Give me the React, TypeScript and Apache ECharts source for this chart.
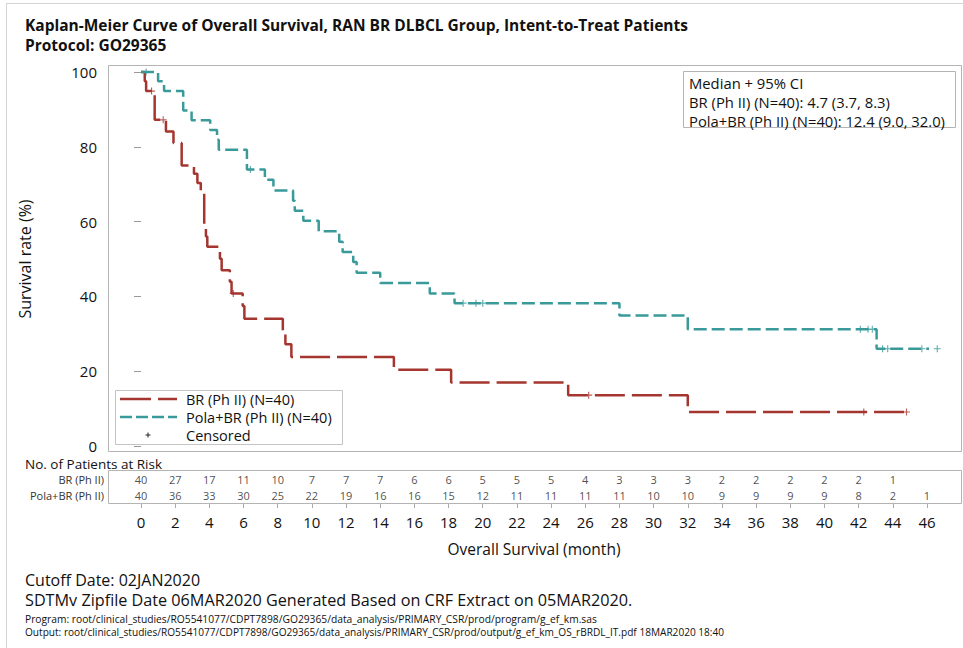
import React, { useEffect, useRef } from "react";
import * as echarts from "echarts";

const RED = "#a5362f";
const TEAL = "#3a9a9a";
const FONT = "'Open Sans', 'Noto Sans', sans-serif";

// Kaplan-Meier step curves (time in months, survival in %)
const brTimes = [0, 0.22, 0.3, 0.8, 1.46, 1.9, 2.38, 3.1, 3.3, 3.5, 3.7, 3.8, 3.88, 4.62, 4.72, 5.2, 5.3, 5.95, 6.05, 8.3, 8.45, 8.8, 14.8, 18.15, 25.0, 32.0, 44.8];
const brSurv = [100, 97.5, 94.9, 87.2, 84.1, 81.0, 75.0, 72.8, 70.3, 67.8, 58.6, 56.0, 53.3, 50.1, 47.0, 43.9, 40.8, 37.4, 34.0, 30.6, 27.2, 23.8, 20.4, 17.0, 13.6, 9.1, 9.1];
const brCensorTimes = [0.62, 1.3, 5.4, 26.2, 42.3, 44.8];

const polaTimes = [0, 1.0, 1.35, 2.47, 2.96, 4.05, 4.45, 4.55, 6.2, 7.25, 7.75, 8.9, 9.0, 9.5, 10.4, 11.6, 11.8, 12.42, 12.62, 14.0, 16.9, 18.35, 28.0, 32.0, 43.05, 46.6];
const polaSurv = [100, 97.5, 94.9, 89.7, 87.1, 84.5, 81.9, 79.2, 73.9, 71.2, 68.3, 65.6, 62.9, 60.2, 57.4, 54.6, 51.9, 49.2, 46.3, 43.6, 40.8, 38.2, 34.9, 31.2, 26.0, 26.0];
const polaCensorTimes = [0.3, 6.4, 18.85, 19.6, 20.0, 42.1, 42.55, 42.8, 43.4, 43.7, 45.7, 46.6];

// Number at risk table
const riskMonths = [0, 2, 4, 6, 8, 10, 12, 14, 16, 18, 20, 22, 24, 26, 28, 30, 32, 34, 36, 38, 40, 42, 44, 46];
const brAtRisk = [40, 27, 17, 11, 10, 7, 7, 7, 6, 6, 5, 5, 5, 4, 3, 3, 3, 2, 2, 2, 2, 2, 1, null];
const polaAtRisk = [40, 36, 33, 30, 25, 22, 19, 16, 16, 15, 12, 11, 11, 11, 11, 10, 10, 9, 9, 9, 9, 8, 2, 1];

const groupLabels = ["BR (Ph II)", "Pola+BR (Ph II)"];
const legendLabels = ["BR (Ph II) (N=40)", "Pola+BR (Ph II) (N=40)", "Censored"];
const medianLines = ["Median + 95% CI", "BR (Ph II) (N=40): 4.7 (3.7, 8.3)", "Pola+BR (Ph II) (N=40): 12.4 (9.0, 32.0)"];
const titleLines = ["Kaplan-Meier Curve of Overall Survival, RAN BR DLBCL Group, Intent-to-Treat Patients", "Protocol: GO29365"];
const footLines = [
  "Cutoff Date: 02JAN2020",
  "SDTMv Zipfile Date 06MAR2020 Generated Based on CRF Extract on 05MAR2020.",
  "Program: root/clinical_studies/RO5541077/CDPT7898/GO29365/data_analysis/PRIMARY_CSR/prod/program/g_ef_km.sas",
  "Output: root/clinical_studies/RO5541077/CDPT7898/GO29365/data_analysis/PRIMARY_CSR/prod/output/g_ef_km_OS_rBRDL_IT.pdf 18MAR2020 18:40",
];

const survAt = (times: number[], surv: number[], t: number) => {
  let s = surv[0];
  for (let i = 0; i < times.length; i++) if (times[i] <= t) s = surv[i];
  return s;
};

const PLUS = "path://M0.42,0 H0.58 V0.42 H1 V0.58 H0.58 V1 H0.42 V0.58 H0 V0.42 H0.42 Z";

const txt = (x: number, y: number, text: string, size: number, opts: any = {}) => ({
  type: "text",
  x,
  y,
  silent: true,
  style: {
    text,
    font: `${opts.weight || "normal"} ${size}px ${FONT}`,
    fill: opts.fill || "#111",
    textAlign: opts.align || "left",
    textVerticalAlign: "middle",
    verticalAlign: "middle",
  },
});

export default function App() {
  const ref = useRef<HTMLDivElement>(null);
  useEffect(() => {
    if (!ref.current) return;
    const chart = echarts.init(ref.current, undefined, { renderer: "svg" });
    const brLine = brTimes.map((t, i) => [t, brSurv[i]]);
    const polaLine = polaTimes.map((t, i) => [t, polaSurv[i]]);
    const brCens = brCensorTimes.map((t) => [t, survAt(brTimes, brSurv, t)]);
    const polaCens = polaCensorTimes.map((t) => [t, survAt(polaTimes, polaSurv, t)]);
    const riskData: any[] = [];
    riskMonths.forEach((m, i) => {
      if (brAtRisk[i] != null) riskData.push([m, groupLabels[0], brAtRisk[i]]);
      if (polaAtRisk[i] != null) riskData.push([m, groupLabels[1], polaAtRisk[i]]);
    });

    const option: any = {
      animation: false,
      backgroundColor: "#fff",
      textStyle: { fontFamily: FONT },
      grid: [
        { left: 141, top: 72, width: 786, height: 374 },
        { left: 141, top: 471, width: 786, height: 32 },
      ],
      xAxis: [
        { gridIndex: 0, type: "value", min: 0, max: 46, show: false },
        {
          gridIndex: 1,
          type: "value",
          min: 0,
          max: 46,
          interval: 2,
          axisLine: { show: false },
          axisTick: { show: true, length: 5, lineStyle: { color: "#aaa" } },
          axisLabel: { fontSize: 15, color: "#111", margin: 11, fontFamily: FONT },
          splitLine: { show: false },
          name: "Overall Survival (month)",
          nameLocation: "middle",
          nameGap: 38,
          nameTextStyle: { fontSize: 15.5, color: "#111", fontFamily: FONT },
        },
      ],
      yAxis: [
        {
          gridIndex: 0,
          type: "value",
          min: 0,
          max: 100,
          interval: 20,
          offset: 33,
          axisLine: { show: false },
          axisTick: { show: true, length: 7, lineStyle: { color: "#999" } },
          axisLabel: { fontSize: 15, color: "#111", margin: 11, fontFamily: FONT },
          splitLine: { show: false },
          name: "Survival rate (%)",
          nameLocation: "middle",
          nameGap: 75,
          nameTextStyle: { fontSize: 16, color: "#111", fontFamily: FONT },
        },
        {
          gridIndex: 1,
          type: "category",
          data: [groupLabels[1], groupLabels[0]],
          offset: 33,
          axisLine: { show: false },
          axisTick: { show: false },
          axisLabel: { fontSize: 11, color: "#333", margin: 4, fontFamily: FONT },
          splitLine: { show: false },
        },
      ],
      series: [
        {
          type: "line",
          step: "end",
          xAxisIndex: 0,
          yAxisIndex: 0,
          data: brLine,
          symbol: "none",
          clip: false,
          lineStyle: { color: RED, width: 2.5, type: [30, 7] },
          itemStyle: { color: RED },
          z: 3,
        },
        {
          type: "line",
          step: "end",
          xAxisIndex: 0,
          yAxisIndex: 0,
          data: polaLine,
          symbol: "none",
          clip: false,
          lineStyle: { color: TEAL, width: 2.5, type: [13, 5] },
          itemStyle: { color: TEAL },
          z: 3,
        },
        {
          type: "scatter",
          xAxisIndex: 0,
          yAxisIndex: 0,
          data: brCens,
          symbol: PLUS,
          symbolSize: 7,
          clip: false,
          itemStyle: { color: RED },
          z: 4,
        },
        {
          type: "scatter",
          xAxisIndex: 0,
          yAxisIndex: 0,
          data: polaCens,
          symbol: PLUS,
          symbolSize: 7,
          clip: false,
          itemStyle: { color: TEAL },
          z: 4,
        },
        {
          type: "scatter",
          xAxisIndex: 1,
          yAxisIndex: 1,
          data: riskData,
          symbolSize: 1,
          itemStyle: { color: "rgba(0,0,0,0)" },
          label: {
            show: true,
            position: "inside",
            formatter: (p: any) => String(p.value[2]),
            fontSize: 11,
            color: "#222",
            fontFamily: FONT,
          },
        },
      ],
      graphic: [
        // outer border
        { type: "line", shape: { x1: 6.5, y1: 3, x2: 6.5, y2: 648 }, style: { stroke: "#d4d4d4", lineWidth: 1 } },
        { type: "line", shape: { x1: 6, y1: 3.5, x2: 963, y2: 3.5 }, style: { stroke: "#d4d4d4", lineWidth: 1 } },
        // plot frame
        { type: "rect", shape: { x: 108.5, y: 65.5, width: 853, height: 386 }, style: { stroke: "#b4b4b4", fill: "none", lineWidth: 1 }, z: 1 },
        // risk table box
        { type: "rect", shape: { x: 108.5, y: 470.5, width: 853, height: 33 }, style: { stroke: "#b4b4b4", fill: "none", lineWidth: 1 }, z: 1 },
        // titles
        txt(25, 25, titleLines[0], 15.5, { weight: "bold" }),
        txt(25, 45, titleLines[1], 15.5, { weight: "bold" }),
        // median box
        { type: "rect", shape: { x: 683.5, y: 71.5, width: 272, height: 56 }, style: { stroke: "#b4b4b4", fill: "#fff", lineWidth: 1 }, z: 5 },
        { ...txt(689, 83, medianLines[0], 14.8), z: 6 },
        { ...txt(689, 102, medianLines[1], 14.8), z: 6 },
        { ...txt(689, 121, medianLines[2], 14.8), z: 6 },
        // legend box
        { type: "rect", shape: { x: 115.5, y: 390.5, width: 227, height: 54 }, style: { stroke: "#c4c4c4", fill: "#fff", lineWidth: 1 }, z: 5 },
        { type: "line", shape: { x1: 120, y1: 399, x2: 177, y2: 399 }, style: { stroke: RED, lineWidth: 2.5, lineDash: [31, 7] }, z: 6 },
        { type: "line", shape: { x1: 120, y1: 417, x2: 177, y2: 417 }, style: { stroke: TEAL, lineWidth: 2.5, lineDash: [12, 4] }, z: 6 },
        { type: "line", shape: { x1: 145.5, y1: 435, x2: 150.5, y2: 435 }, style: { stroke: "#222", lineWidth: 1 }, z: 6 },
        { type: "line", shape: { x1: 148, y1: 432.5, x2: 148, y2: 437.5 }, style: { stroke: "#222", lineWidth: 1 }, z: 6 },
        { ...txt(186, 399, legendLabels[0], 14.5), z: 6 },
        { ...txt(186, 417, legendLabels[1], 14.5), z: 6 },
        { ...txt(186, 435, legendLabels[2], 14.5), z: 6 },
        // risk table heading
        txt(25, 463.5, "No. of Patients at Risk", 13.5),
        // footer
        txt(25, 580, footLines[0], 16),
        txt(25, 600, footLines[1], 16.2),
        txt(25, 619, footLines[2], 10.25),
        txt(25, 632, footLines[3], 10.1),
      ],
    };
    chart.setOption(option);
    return () => chart.dispose();
  }, []);
  return (
    <div
      ref={ref}
      style={{ position: "fixed", left: 0, top: 0, width: 963, height: 648, background: "#fff" }}
    />
  );
}
